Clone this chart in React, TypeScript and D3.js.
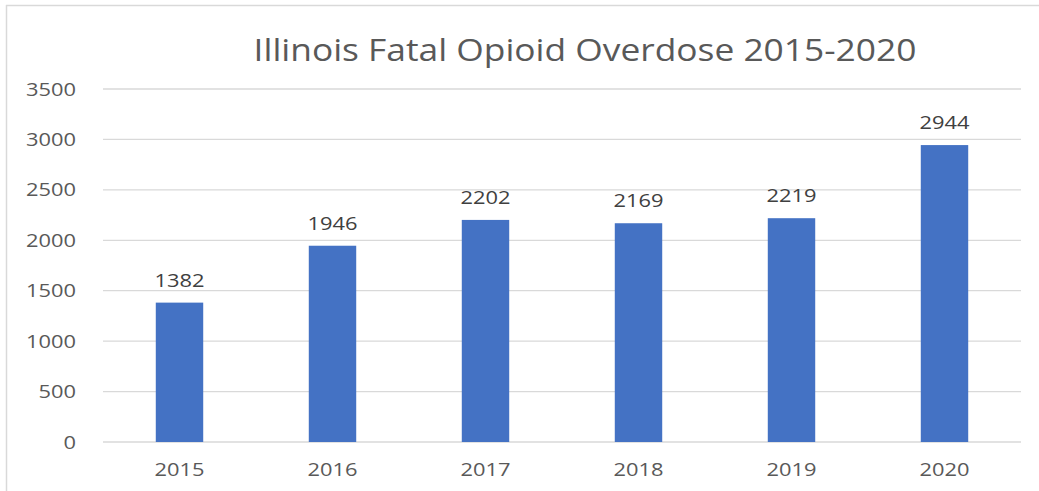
import React from "react";
import * as d3 from "d3";

const years = ["2015", "2016", "2017", "2018", "2019", "2020"];
const deaths = [1382, 1946, 2202, 2169, 2219, 2944];
const yTicks = [0, 500, 1000, 1500, 2000, 2500, 3000, 3500];
const title = "Illinois Fatal Opioid Overdose 2015-2020";

const W = 1039;
const H = 491;
const M = { left: 103, right: 1021, top: 89, bottom: 442 };
const FONT = "'Open Sans', 'Noto Sans', sans-serif";
const NUM_SX = 1.25;

function SText(props: { x: number; y: number; sx: number; anchor: string; size: number; fill: string; children: React.ReactNode; dy?: string }) {
  return (
    <text
      transform={`translate(${props.x},${props.y}) scale(${props.sx},1)`}
      x={0}
      y={0}
      dy={props.dy}
      textAnchor={props.anchor}
      fontFamily={FONT}
      fontSize={props.size}
      fill={props.fill}
    >
      {props.children}
    </text>
  );
}

export default function App() {
  const x = d3.scaleBand<string>().domain(years).range([M.left, M.right]).paddingInner(0.69).paddingOuter(0.345);
  const y = d3.scaleLinear().domain([0, 3500]).range([M.bottom, M.top]);
  return (
    <svg width={W} height={H} style={{ position: "absolute", left: 0, top: 0, background: "#fff" }}>
      <rect x={0} y={0} width={W} height={H} fill="#fff" />
      <line x1={6} y1={5.5} x2={W} y2={5.5} stroke="#d9d9d9" strokeWidth={1.5} />
      <line x1={6.5} y1={5} x2={6.5} y2={H} stroke="#d9d9d9" strokeWidth={1.5} />
      <SText x={585} y={61} sx={1.14} anchor="middle" size={31} fill="#595959">
        {title}
      </SText>
      {yTicks.map((t) => (
        <g key={t}>
          <line x1={M.left} x2={M.right} y1={y(t)} y2={y(t)} stroke="#d9d9d9" strokeWidth={1.3} />
          <SText x={76} y={y(t) + 6.5} sx={NUM_SX} anchor="end" size={17.5} fill="#595959">
            {t}
          </SText>
        </g>
      ))}
      {years.map((yr, i) => {
        const cx = (x(yr) as number) + x.bandwidth() / 2;
        return (
          <g key={yr}>
            <rect x={x(yr)} y={y(deaths[i])} width={x.bandwidth()} height={y(0) - y(deaths[i])} fill="#4472c4" />
            <SText x={cx} y={y(deaths[i]) - 16} sx={NUM_SX} anchor="middle" size={17.5} fill="#404040">
              {deaths[i]}
            </SText>
            <SText x={cx} y={476} sx={NUM_SX} anchor="middle" size={17.5} fill="#595959">
              {yr}
            </SText>
          </g>
        );
      })}
    </svg>
  );
}
